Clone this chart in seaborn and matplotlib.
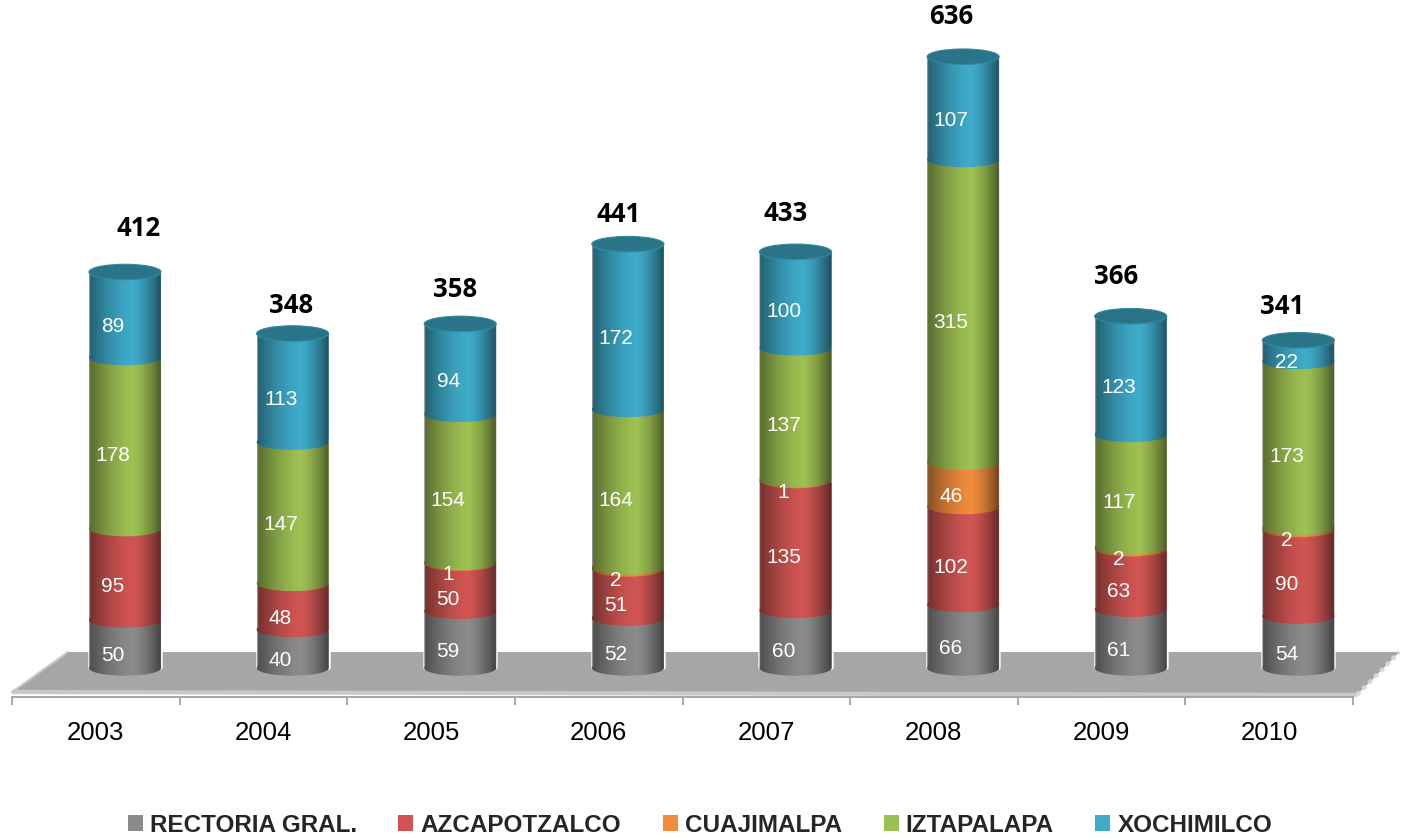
"""Stacked cylinder chart: UAM por unidad, 2003-2010."""
import matplotlib
matplotlib.use("Agg")
import matplotlib.pyplot as plt
import matplotlib.colors as mcolors
from matplotlib.patches import Ellipse, Polygon, Patch, Rectangle
import numpy as np
import pandas as pd
import seaborn as sns

# ── data ──────────────────────────────────────────────────────────────────────
YEARS = ["2003", "2004", "2005", "2006", "2007", "2008", "2009", "2010"]
CAMPUSES = ["RECTORIA GRAL.", "AZCAPOTZALCO", "CUAJIMALPA", "IZTAPALAPA", "XOCHIMILCO"]
RECTORIA = [50, 40, 59, 52, 60, 66, 61, 54]
AZCAPOTZALCO = [95, 48, 50, 51, 135, 102, 63, 90]
CUAJIMALPA = [0, 0, 1, 2, 1, 46, 2, 2]
IZTAPALAPA = [178, 147, 154, 164, 137, 315, 117, 173]
XOCHIMILCO = [89, 113, 94, 172, 100, 107, 123, 22]

COLORS = ["#8b8b8b", "#d05552", "#f08c3c", "#9dc052", "#3eabca"]

# total-label nudges (pixels) – label placement in the original is hand-tuned
TOT_DX = [14, -2, -5, -9, -10, -12, -15, -16]
TOT_DY = [43, 28, 34, 30, 38, 40, 40, 34]

df = pd.DataFrame({"year": YEARS, "RECTORIA GRAL.": RECTORIA,
                   "AZCAPOTZALCO": AZCAPOTZALCO, "CUAJIMALPA": CUAJIMALPA,
                   "IZTAPALAPA": IZTAPALAPA, "XOCHIMILCO": XOCHIMILCO})
cum = df[CAMPUSES].cumsum(axis=1)
totals = cum[CAMPUSES[-1]].tolist()

# ── style ─────────────────────────────────────────────────────────────────────
sns.set_theme(style="white")
plt.rcParams["font.family"] = ["Liberation Sans", "DejaVu Sans"]

W, H, DPI = 1403, 838, 100
fig = plt.figure(figsize=(W / DPI, H / DPI), dpi=DPI)
ax = fig.add_axes([12 / W, 141 / H, 1341 / W, 697 / H])

BAR_W = 0.43
# cumulative bars, top layer first; lower layers sit above in z-order
for k in range(len(CAMPUSES) - 1, -1, -1):
    sns.barplot(x=df["year"], y=cum[CAMPUSES[k]], color=COLORS[k],
                width=BAR_W, saturation=1, ax=ax, zorder=2 - k * 0.01)
bar_rects = [p for p in ax.patches if isinstance(p, Rectangle)]

ax.set_xlim(-0.674, 7.326)
ax.set_ylim(-30.2, 695)

px_y = (695 + 30.2) / 697      # data units per pixel (y)
px_x = 8.0 / 1341              # data units per pixel (x)
ELL_H = 15.5 * px_y

# ── floor ─────────────────────────────────────────────────────────────────────
floor = Polygon([(-0.674, -25), (-0.34, 16.6), (7.603, 16.6), (7.35, -28)],
                closed=True, facecolor="#a6a6a6", edgecolor="none",
                zorder=1, clip_on=False)
ax.add_patch(floor)
ax.plot([-0.674, 7.35], [-25, -28], color="#c8c8c8", lw=3, zorder=1.1,
        clip_on=False, solid_capstyle="butt")
ax.plot([-0.674, -0.34], [-25, 16.6], color="#c8c8c8", lw=1.5, zorder=1.1,
        clip_on=False)
ax.plot([7.35, 7.603], [-28, 16.6], color="#d6d6d6", lw=3, ls=(0, (1, 1)),
        zorder=1.1, clip_on=False)

# ── cylinder decoration ───────────────────────────────────────────────────────
t = np.linspace(0, 1, 200)
alpha = np.where(t < 0.6, 0.45 * np.abs((0.6 - t) / 0.6) ** 1.5,
                 0.55 * np.abs((t - 0.6) / 0.4) ** 1.5)
shade = np.zeros((1, t.size, 4))
shade[..., 3] = alpha

n_layers = len(CAMPUSES)
for i in range(len(YEARS)):
    col_bars = [p for p in bar_rects if abs(p.get_x() + p.get_width() / 2 - i) < 0.01]
    x0 = col_bars[0].get_x()
    w = col_bars[0].get_width()
    xc = x0 + w / 2
    top = totals[i]
    bottoms = [0] + [cum[CAMPUSES[k - 1]][i] for k in range(1, n_layers)]
    # bottom arcs of each segment (curved boundaries)
    for k in range(n_layers):
        if df[CAMPUSES[k]][i] <= 0:
            continue
        ax.add_patch(Ellipse((xc, bottoms[k]), w, ELL_H, facecolor=COLORS[k],
                             edgecolor="none", zorder=2.2 + k * 0.01))
    # silhouette for the shading overlay
    th = np.linspace(np.pi, 0, 60)
    top_arc = np.column_stack([xc + w / 2 * np.cos(th), top + ELL_H / 2 * np.sin(th)])
    th2 = np.linspace(0, -np.pi, 60)
    bot_arc = np.column_stack([xc + w / 2 * np.cos(th2), ELL_H / 2 * np.sin(th2)])
    outline = np.vstack([top_arc, bot_arc])
    clip = Polygon(outline, closed=True, transform=ax.transData, facecolor="none",
                   edgecolor="none")
    ax.add_patch(clip)
    im = ax.imshow(shade, extent=[x0, x0 + w, -ELL_H, top + ELL_H],
                   aspect="auto", zorder=2.5, interpolation="bilinear")
    im.set_clip_path(clip)
    # top cap
    base = np.array(mcolors.to_rgb(COLORS[-1]))
    ax.add_patch(Ellipse((xc, top), w, ELL_H, facecolor=base * 0.68,
                         edgecolor=base * 0.8, lw=0.8, zorder=2.6))
    # segment labels
    for k in range(n_layers):
        v = df[CAMPUSES[k]][i]
        if v <= 0:
            continue
        ymid = bottoms[k] + v / 2 - 12 * px_y
        ax.text(xc - 12 * px_x, ymid, str(v), color="white", fontsize=15,
                ha="center", va="center", zorder=3)
    # total
    ax.annotate(str(top), (xc, top), xytext=(TOT_DX[i] * 0.72, TOT_DY[i] * 0.72),
                textcoords="offset points", ha="center", va="center",
                fontsize=18.5, fontweight="bold", family=["Open Sans", "DejaVu Sans"],
                color="black", zorder=3, annotation_clip=False)

ax.set_ylim(-30.2, 695)
ax.set_xlim(-0.674, 7.326)

# ── axes ──────────────────────────────────────────────────────────────────────
for s in ["top", "right", "left"]:
    ax.spines[s].set_visible(False)
ax.spines["bottom"].set_color("#a0a0a0")
ax.spines["bottom"].set_linewidth(1.3)
ax.set_yticks([])
ax.set_xlabel("")
ax.set_ylabel("")
offset = -0.174
ax.set_xticks(np.arange(len(YEARS)) + offset)
ax.set_xticklabels(YEARS)
ax.set_xticks(np.arange(len(YEARS) + 1) - 0.5 + offset, minor=True)
ax.tick_params(axis="x", which="major", length=0, pad=17, labelsize=18.5,
               colors="black")
ax.tick_params(axis="x", which="minor", length=6, width=1.3, color="#a0a0a0",
               direction="out", bottom=True)

handles = [Patch(facecolor=c, edgecolor="none") for c in COLORS]
fig.legend(handles, CAMPUSES, loc="center", bbox_to_anchor=(700 / W, 1 - 825 / H),
           ncol=5, frameon=False, handlelength=0.62, handleheight=0.62,
           handletextpad=0.3, columnspacing=1.7,
           prop=dict(family="Liberation Sans", weight="bold", size=17.5))

fig.savefig("out.png", dpi=DPI)
